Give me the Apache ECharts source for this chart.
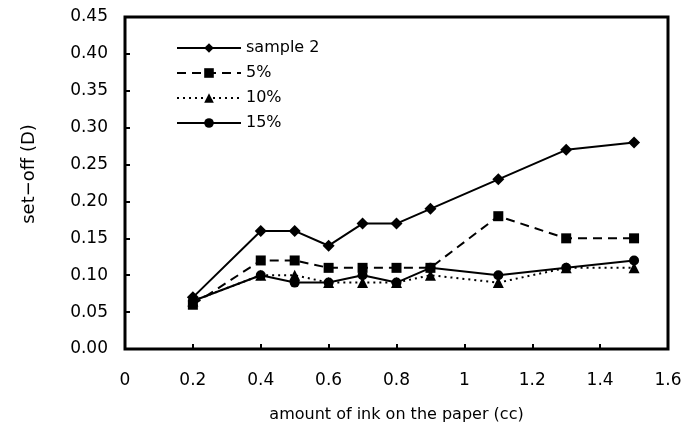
<!DOCTYPE html>
<html><head><meta charset="utf-8">
<script src="https://cdn.jsdelivr.net/npm/echarts@6/dist/echarts.min.js"></script>
<style>html,body{margin:0;padding:0;background:#fff}#c{width:685px;height:433px}</style>
</head><body><div id="c"></div>
<script>
var xValues = [0.2, 0.4, 0.5, 0.6, 0.7, 0.8, 0.9, 1.1, 1.3, 1.5];
var sample2 = [0.07, 0.16, 0.16, 0.14, 0.17, 0.17, 0.19, 0.23, 0.27, 0.28];
var pct5 = [0.06, 0.12, 0.12, 0.11, 0.11, 0.11, 0.11, 0.18, 0.15, 0.15];
var pct10 = [0.065, 0.10, 0.10, 0.09, 0.09, 0.09, 0.10, 0.09, 0.11, 0.11];
var pct15 = [0.065, 0.10, 0.09, 0.09, 0.10, 0.09, 0.11, 0.10, 0.11, 0.12];
var seriesNames = ['sample 2', '5%', '10%', '15%'];
var xTitle = 'amount of ink on the paper (cc)';
var yTitle = 'set\u2212off (D)';

function pairs(ys){ return xValues.map(function(x,i){ return [x, ys[i]]; }); }
var font = 'DejaVu Sans, sans-serif';
function mk(name, ys, symbol, type, size){
  return {
    name: name, type: 'line', data: pairs(ys), symbol: symbol, symbolSize: size,
    itemStyle: {color: '#000'},
    lineStyle: {color: '#000', width: 2, type: type},
    emphasis: {disabled: true}
  };
}
var chart = echarts.init(document.getElementById('c'));
chart.setOption({
  animation: false,
  backgroundColor: '#fff',
  grid: {left: 125, right: 17, top: 17, bottom: 84, show: true, borderColor: '#000', borderWidth: 3},
  legend: {
    left: 171, top: 35, orient: 'vertical', itemWidth: 64, itemHeight: 12, itemGap: 9,
    data: seriesNames,
    textStyle: {fontFamily: font, fontSize: 16, color: '#000'}
  },
  xAxis: {
    type: 'value', min: 0, max: 1.6, interval: 0.2,
    name: xTitle, nameLocation: 'middle', nameGap: 58,
    nameTextStyle: {fontFamily: font, fontSize: 16, color: '#000'},
    axisLine: {show: false},
    axisTick: {show: true, inside: true, length: 5, lineStyle: {color: '#000', width: 2}},
    splitLine: {show: false},
    axisLabel: {fontFamily: font, fontSize: 17, color: '#000', margin: 23,
      formatter: function(v){ return String(Math.round(v*10)/10); }}
  },
  yAxis: {
    type: 'value', min: 0, max: 0.45, interval: 0.05,
    name: yTitle, nameLocation: 'middle', nameGap: 87, nameRotate: 90,
    nameTextStyle: {fontFamily: font, fontSize: 18, color: '#000', padding: [0, 0, 0, 18]},
    axisLine: {show: false},
    axisTick: {show: true, inside: true, length: 5, lineStyle: {color: '#000', width: 2}},
    splitLine: {show: false},
    axisLabel: {fontFamily: font, fontSize: 17, color: '#000', margin: 17,
      formatter: function(v){ return v.toFixed(2); }}
  },
  series: [
    mk(seriesNames[0], sample2, 'diamond', 'solid', 12),
    mk(seriesNames[1], pct5, 'rect', [9, 6], 10),
    mk(seriesNames[2], pct10, 'triangle', [2, 4], 11),
    mk(seriesNames[3], pct15, 'circle', 'solid', 10)
  ]
});
</script></body></html>
